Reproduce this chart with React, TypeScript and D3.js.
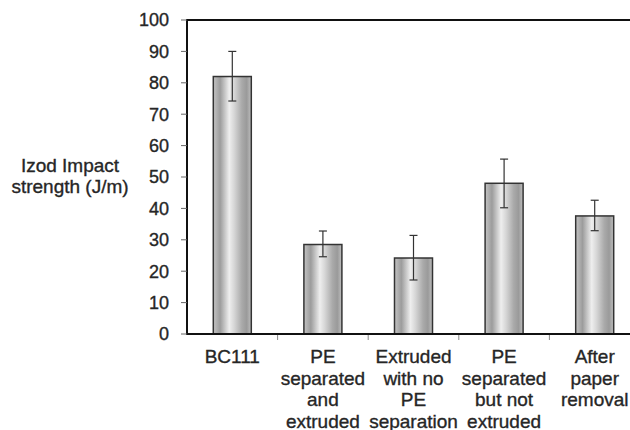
import React from "react";
import * as d3 from "d3";

const categories: string[][] = [
  ["BC111"],
  ["PE", "separated", "and", "extruded"],
  ["Extruded", "with no", "PE", "separation"],
  ["PE", "separated", "but not", "extruded"],
  ["After", "paper", "removal"],
];
const values = [82, 28.5, 24.2, 48, 37.6];
const errHigh = [90, 32.8, 31.4, 55.7, 42.6];
const errLow = [74.2, 24.6, 17.2, 40.2, 32.9];
const yTicks = [0, 10, 20, 30, 40, 50, 60, 70, 80, 90, 100];
const yLabel = ["Izod Impact", "strength (J/m)"];

export default function App() {
  const W = 630, H = 430;
  const left = 187, right = 640, top = 20, bottom = 334;
  const x = d3.scaleBand<number>().domain(d3.range(values.length)).range([left, right]);
  const y = d3.scaleLinear().domain([0, 100]).range([bottom, top]);
  const barW = 38;
  const font = "'Liberation Sans', Arial, sans-serif";
  const txt = "#262626";
  const fs = 18;
  const fsL = 19;
  const heavy = { stroke: txt, strokeWidth: 0.35 };
  return (
    <svg width={W} height={H} style={{ position: "absolute", left: 0, top: 0, background: "#fff" }}>
      <defs>
        <linearGradient id="barGrad" x1="0" x2="1" y1="0" y2="0">
          <stop offset="0" stopColor="#c4c4c4" />
          <stop offset="0.18" stopColor="#9c9c9c" />
          <stop offset="0.42" stopColor="#eeeeee" />
          <stop offset="0.55" stopColor="#d6d6d6" />
          <stop offset="0.75" stopColor="#aaaaaa" />
          <stop offset="0.88" stopColor="#9a9a9a" />
          <stop offset="1" stopColor="#c0c0c0" />
        </linearGradient>
      </defs>
      {/* top border */}
      <line x1={left} x2={W} y1={top} y2={top} stroke="#111" strokeWidth={2} />
      {/* x tick marks */}
      {d3.range(1, values.length).map((i) => (
        <line key={i} x1={x(i)!} x2={x(i)!} y1={bottom} y2={bottom + 6} stroke="#888" strokeWidth={1} />
      ))}
      {/* bars */}
      {values.map((v, i) => {
        const cx = x(i)! + x.bandwidth() / 2;
        return (
          <g key={i}>
            <rect x={cx - barW / 2} y={y(v)} width={barW} height={bottom - y(v)} fill="url(#barGrad)" stroke="#333" strokeWidth={1.5} />
            <line x1={cx} x2={cx} y1={y(errHigh[i])} y2={y(errLow[i])} stroke="#333" strokeWidth={1.2} />
            <line x1={cx - 4} x2={cx + 4} y1={y(errHigh[i])} y2={y(errHigh[i])} stroke="#333" strokeWidth={1.2} />
            <line x1={cx - 4} x2={cx + 4} y1={y(errLow[i])} y2={y(errLow[i])} stroke="#333" strokeWidth={1.2} />
          </g>
        );
      })}
      {/* axes */}
      <line x1={left} x2={left} y1={top - 1} y2={bottom + 1} stroke="#111" strokeWidth={2} />
      <line x1={left - 1} x2={W} y1={bottom} y2={bottom} stroke="#111" strokeWidth={2} />
      {yTicks.map((t) => (
        <g key={t}>
          <line x1={left - 6} x2={left} y1={y(t)} y2={y(t)} stroke="#666" strokeWidth={1} />
          <text x={169} y={y(t)} dy="0.36em" textAnchor="end" fontFamily={font} fontSize={fs} fill={txt} {...heavy}>
            {t}
          </text>
        </g>
      ))}
      {categories.map((lines, i) => {
        const cx = x(i)! + x.bandwidth() / 2;
        return (
          <text key={i} textAnchor="middle" fontFamily={font} fontSize={fsL} fill={txt} {...heavy}>
            {lines.map((l, j) => (
              <tspan key={j} x={cx} y={363 + j * 21.5}>
                {l}
              </tspan>
            ))}
          </text>
        );
      })}
      <text textAnchor="middle" fontFamily={font} fontSize={fsL} fill={txt} {...heavy}>
        {yLabel.map((l, j) => (
          <tspan key={j} x={70} y={172 + j * 21}>
            {l}
          </tspan>
        ))}
      </text>
    </svg>
  );
}
